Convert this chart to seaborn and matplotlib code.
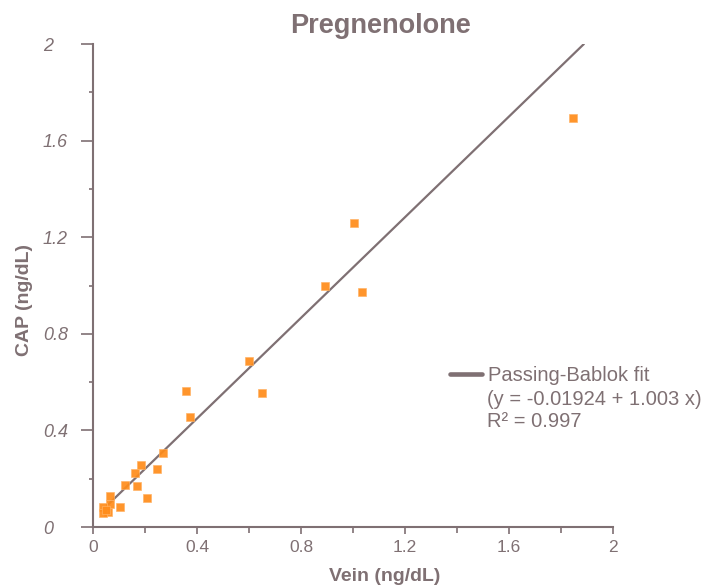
"""
    Grafico de comparacao Vein x CAP para pregnenolona
    com a reta de ajuste Passing-Bablok.
"""

import pandas as pd
from matplotlib import pyplot as plt
from matplotlib.lines import Line2D
from matplotlib.ticker import MultipleLocator
import seaborn as sns

# Valores
vein = [1.846, 1.004, 1.035, 0.892, 0.600, 0.651, 0.356, 0.373, 0.270, 0.186, 0.245,
        0.163, 0.123, 0.169, 0.206, 0.064, 0.105, 0.064, 0.040, 0.058, 0.038, 0.050]
cap = [1.694, 1.259, 0.973, 0.998, 0.686, 0.553, 0.562, 0.454, 0.308, 0.255, 0.239,
       0.222, 0.175, 0.168, 0.119, 0.128, 0.084, 0.095, 0.082, 0.063, 0.057, 0.070]

# Extremos da reta de ajuste como aparecem no grafico
fit_x = [0.06, 1.888]
fit_y = [0.095, 2.0]

title = "Pregnenolone"
fit_label = "Passing-Bablok fit"
fit_info = "(y = -0.01924 + 1.003 x)\nR\u00b2 = 0.997"

GRAY = "#7f7073"
ORANGE = "#ff8c1a"

df_points = pd.DataFrame({"vein": vein, "cap": cap})
df_fit = pd.DataFrame({"x": fit_x, "y": fit_y})


def graph_plot():
    """ Desenha o grafico de dispersao com a reta de ajuste """
    sns.set_theme(style="white")
    plt.rcParams["font.family"] = ["Liberation Sans Narrow", "Liberation Sans", "DejaVu Sans"]

    fig = plt.figure(figsize=(7.02, 5.88), dpi=100)
    ax = fig.add_axes([0.1325, 0.1037, 0.7407, 0.8214])

    sns.lineplot(data=df_fit, x="x", y="y", color=GRAY, linewidth=1.6, ax=ax, zorder=2)
    sns.scatterplot(data=df_points, x="vein", y="cap", marker="s", s=40,
                    color=ORANGE, edgecolor="#ffb366", linewidth=0.5, alpha=0.92,
                    ax=ax, zorder=3)

    ax.set_xlim(0, 2)
    ax.set_ylim(0, 2)
    ax.xaxis.set_major_locator(MultipleLocator(0.4))
    ax.xaxis.set_minor_locator(MultipleLocator(0.2))
    ax.yaxis.set_major_locator(MultipleLocator(0.4))
    ax.yaxis.set_minor_locator(MultipleLocator(0.2))
    ax.xaxis.set_major_formatter(lambda v, p: f"{v:g}")
    ax.yaxis.set_major_formatter(lambda v, p: f"{v:g}")

    for side in ["top", "right"]:
        ax.spines[side].set_visible(False)
    for side in ["left", "bottom"]:
        ax.spines[side].set_color(GRAY)
        ax.spines[side].set_linewidth(1.5)

    ax.tick_params(axis="y", which="major", direction="out", length=9, width=1.2,
                   color=GRAY, labelcolor=GRAY, labelsize=13, pad=27, left=True)
    ax.tick_params(axis="y", which="minor", direction="out", length=3, width=1.2,
                   color=GRAY, left=True)
    ax.tick_params(axis="x", which="major", direction="out", length=5, width=1.2,
                   color=GRAY, labelcolor=GRAY, labelsize=12.5, pad=4, bottom=True)
    ax.tick_params(axis="x", which="minor", direction="out", length=4, width=1.2,
                   color=GRAY, bottom=True)
    for lbl in ax.get_yticklabels():
        lbl.set_style("italic")
        lbl.set_horizontalalignment("left")

    ax.set_title(title, fontsize=19.5, fontweight="bold", color=GRAY, pad=8, x=0.552)
    ax.set_xlabel("Vein (ng/dL)", fontsize=14, fontweight="bold", color=GRAY)
    ax.set_ylabel("CAP (ng/dL)", fontsize=14, fontweight="bold", color=GRAY)
    ax.xaxis.set_label_coords(0.56, -0.085)
    ax.yaxis.set_label_coords(-0.115, 0.47)

    # Legenda da reta com as informacoes do ajuste
    handle = Line2D([], [], color=GRAY, linewidth=3.3)
    ax.legend([handle], [fit_label], loc="upper left", bbox_to_anchor=(0.671, 0.35),
              frameon=False, fontsize=14.5, labelcolor=GRAY, handlelength=1.6,
              handletextpad=0.3, borderaxespad=0)
    ax.text(0.757, 0.283, fit_info, transform=ax.transAxes, fontsize=14.5,
            color=GRAY, va="top", ha="left", linespacing=1.17)

    fig.savefig("out.png", dpi=100)


if __name__ == '__main__':
    graph_plot()
